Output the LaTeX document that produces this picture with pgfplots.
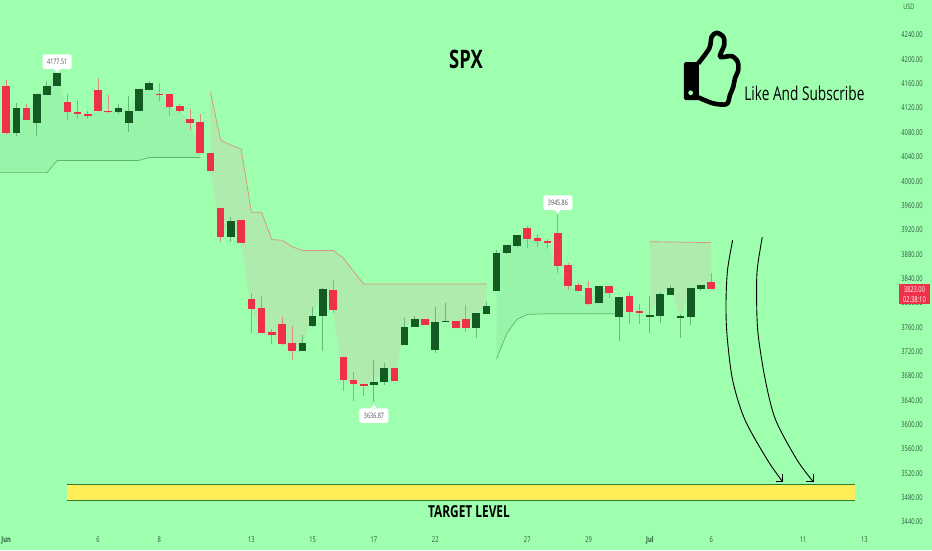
\documentclass[border=0pt]{standalone}
\usepackage{fontspec}
\usepackage{pgfplots}
\usepackage{pgfplotstable}
\pgfplotsset{compat=1.18}
\setmainfont{Open Sans}
\newfontfamily\cond[FakeStretch=0.72]{Open Sans}

\definecolor{bg}{HTML}{9EFFAF}
\definecolor{candlered}{HTML}{F03049}
\definecolor{candlegreen}{HTML}{135A23}
\definecolor{wickred}{HTML}{D98F80}
\definecolor{wickgreen}{HTML}{68B878}
\definecolor{areagreen}{HTML}{97F5A9}
\definecolor{areared}{HTML}{AEEBAC}
\definecolor{linegreen}{HTML}{5FB570}
\definecolor{linered}{HTML}{DB937F}
\definecolor{tickcol}{HTML}{2C5A3C}
\definecolor{band}{HTML}{FFEE58}
\definecolor{bandline}{HTML}{2E7D32}

% x = candle number, body from bot to top, wick from low to high
\pgfplotstableread{
x bot top low high
0 4078.5 4157 4076 4167
2 4100 4121 4100 4126
6 4113.5 4129.5 4100 4143
7 4111 4113.5 4102.5 4134
8 4107 4111 4101.5 4116
9 4115 4150 4115 4169
10 4113 4116 4112 4141
15 4142 4143 4131 4161
16 4122 4143 4107 4143
17 4115 4123 4112 4127
18 4096 4102 4084 4118
19 4047 4098 4047 4110
20 4017 4047 4017 4047
21 3909 3956 3900 3956
23 3899 3936 3899 3936
24 3790 3806 3751 3817
25 3750.5 3791 3750.5 3811
26 3747 3752 3733 3757
27 3733 3765 3730 3777
28 3721 3734 3706 3762.5
32 3788 3821 3784 3837.5
33 3673 3711 3655 3711
34 3666 3673 3638 3686
35 3664 3666 3647.5 3666
38 3672 3692.5 3672 3692.5
41 3763 3773.5 3763 3773.5
44 3758 3771 3758 3771
45 3759 3773.5 3752.6 3796
51 3905 3923 3891 3927
52 3902 3906 3891 3913
53 3899 3901 3891 3905
54 3860.5 3915 3848.5 3945.9
55 3828 3862 3821 3866
56 3820 3829 3820 3832
57 3797.6 3824 3796.5 3836
59 3817 3828 3808.5 3828
61 3785 3811 3765 3818
62 3783 3787 3766 3798
69 3823 3834 3823 3848.5
}\redcandles

\pgfplotstableread{
x bot top low high
1 4079 4121 4075 4129
3 4095 4143 4074 4143
4 4142 4156 4142 4164
5 4156 4177.5 4156 4177.5
11 4113 4121 4111 4126
12 4096 4116 4081 4140
13 4115 4151 4115 4151
14 4150 4161 4150 4164.5
22 3909 3935 3900 3941.5
29 3721 3734 3721 3748
30 3762 3779 3760 3794
31 3778 3822 3721 3824
36 3665.5 3670 3636.9 3706
37 3669.5 3692.5 3664.5 3702
39 3730 3760 3730 3775.6
40 3760 3773.5 3760 3778
42 3723 3769 3717 3793
43 3768.5 3771 3768.5 3800
46 3759 3783 3743 3783
47 3782 3795 3782 3802
48 3820 3882 3820 3887
49 3882 3894.5 3880 3894.5
50 3893 3911.5 3892 3911.5
58 3799 3828 3799 3828
60 3776 3810 3737 3810
63 3777 3779.5 3751 3811
64 3779 3814.5 3767 3818
65 3813 3824 3813 3829
66 3775 3778 3742 3781
67 3777 3824 3764 3824
68 3823 3830 3819 3830
}\greencandles

\begin{document}
\begin{tikzpicture}
\begin{axis}[
    scale only axis,
    width=932pt, height=550pt,
    xmin=-0.587, xmax=90.6,
    ymin=3394, ymax=4297.5,
    axis background/.style={fill=bg},
    axis line style={draw=none},
    major tick length=0pt,
    ytick={3440,3480,...,4240},
    yticklabel pos=right,
    y tick label style={
        font=\cond\fontsize{8}{9}\selectfont, text=tickcol, xshift=-34pt,
        /pgf/number format/fixed, /pgf/number format/fixed zerofill,
        /pgf/number format/precision=2, /pgf/number format/1000 sep={},
        /pgf/number format/assume math mode=true},
    xtick={0,9,15,24,30,36,42,51,57,63,69,78,84},
    xticklabels={\textbf{Jun},6,8,13,15,17,22,27,29,\textbf{Jul},6,11,13},
    x tick label style={font=\cond\fontsize{8}{9}\selectfont, text=tickcol, yshift=17pt, inner xsep=0pt},
]
% shaded regions between the close and the band line
\addplot[fill=areagreen, draw=none, forget plot] coordinates {
    (-0.587,4078) (0,4078.5) (1,4121) (2,4100) (3,4143) (4,4156) (5,4177) (6,4113.5) (7,4111)
    (8,4107) (9,4115) (10,4113) (11,4121) (12,4116) (13,4151) (14,4161) (15,4142) (16,4122)
    (17,4115) (18,4096) (19,4047) (19,4039) (14,4039) (13,4034) (5,4034) (4,4014) (-0.587,4014)} --cycle;
\addplot[fill=areared, draw=none, forget plot] coordinates {
    (20,4146) (21,4067.5) (22,4059) (23,4053) (23.5,4002) (24,3949) (25,3949) (26,3904) (27,3903)
    (28,3892) (29,3886) (32,3886) (33,3874) (34,3852) (35,3831) (47,3831)
    (47,3795) (46,3783) (45,3759) (44,3758) (43,3771) (42,3769) (41,3763) (40,3773.5) (39,3760)
    (38,3672) (37,3692.5) (36,3670) (35,3664) (34,3666) (33,3673) (32,3788) (31,3822) (30,3779)
    (29,3734) (28,3721) (27,3733) (26,3747) (25,3750.5) (24,3790) (23,3899) (22,3935) (21,3909) (20,4017)} --cycle;
\addplot[fill=areagreen, draw=none, forget plot] coordinates {
    (48,3882) (49,3894.5) (50,3911.5) (51,3905) (52,3902) (53,3899) (54,3860.5) (55,3828) (56,3820)
    (57,3797.6) (58,3828) (59,3817) (59.6,3800) (59.6,3782) (52.6,3782) (51,3781) (50,3773) (49,3750) (48,3708)} --cycle;
\addplot[fill=areared, draw=none, forget plot] coordinates {
    (63,3900.5) (65.3,3900) (69,3899) (69,3823) (68,3830) (67,3824) (66,3775) (65,3824) (64,3814.5) (63,3779.5)} --cycle;
% band lines
\addplot[linegreen, line width=0.7pt] coordinates {(-0.587,4014) (4,4014) (5,4034) (13,4034) (14,4039) (19,4039)};
\addplot[linered, line width=0.7pt] coordinates {
    (20,4146) (21,4067.5) (22,4059) (23,4053) (23.5,4002) (24,3949) (25,3949) (26,3904) (27,3903)
    (28,3892) (29,3886) (32,3886) (33,3874) (34,3852) (35,3831) (47,3831)};
\addplot[linegreen, line width=0.7pt] coordinates {(48,3708) (49,3750) (50,3773) (51,3781) (52.6,3782) (59.6,3782)};
\addplot[linered, line width=0.7pt] coordinates {(63,3900.5) (65.3,3900) (69,3899)};
% candles: wicks first, then bodies
\addplot[draw=none, mark=none, forget plot, error bars/.cd, y dir=both, y explicit, error mark=none,
    error bar style={draw=wickred, line width=1pt}]
    table[x=x, y=bot, y error plus expr=\thisrow{high}-\thisrow{bot}, y error minus expr=\thisrow{bot}-\thisrow{low}] {\redcandles};
\addplot[draw=none, mark=none, forget plot, error bars/.cd, y dir=both, y explicit, error mark=none,
    error bar style={draw=wickgreen, line width=1pt}]
    table[x=x, y=bot, y error plus expr=\thisrow{high}-\thisrow{bot}, y error minus expr=\thisrow{bot}-\thisrow{low}] {\greencandles};
\addplot[draw=none, mark=none, forget plot, error bars/.cd, y dir=plus, y explicit, error mark=none,
    error bar style={draw=candlered, line width=7.6pt}]
    table[x=x, y=bot, y error plus expr=\thisrow{top}-\thisrow{bot}] {\redcandles};
\addplot[draw=none, mark=none, forget plot, error bars/.cd, y dir=plus, y explicit, error mark=none,
    error bar style={draw=candlegreen, line width=7.6pt}]
    table[x=x, y=bot, y error plus expr=\thisrow{top}-\thisrow{bot}] {\greencandles};
% target band
\addplot[fill=band, draw=none, forget plot] coordinates {(6,3502.4) (83.07,3502.4) (83.07,3475.7) (6,3475.7)} --cycle;
\addplot[bandline, line width=0.9pt] coordinates {(6,3502.4) (83.07,3502.4)};
\addplot[bandline, line width=0.9pt] coordinates {(6,3475.7) (83.07,3475.7)};
% hand drawn arrows
\addplot[black, line width=0.9pt, smooth] coordinates {
    (71.1,3903) (70.6,3854) (70.45,3800) (70.55,3747) (71.1,3673) (72.3,3608) (74.5,3542) (76,3506)};
\addplot[black, line width=0.9pt] coordinates {(75.3,3506) (76,3506) (76,3519)};
\addplot[black, line width=0.9pt, smooth] coordinates {
    (74,3908) (73.5,3854) (73.45,3800) (73.6,3747) (74.3,3673) (75.3,3608) (77.4,3542) (79,3506)};
\addplot[black, line width=0.9pt] coordinates {(78.3,3506) (79,3506) (79,3519)};
% high and low callouts
\tikzset{callout/.style={fill=white, rounded corners=1.5pt, inner sep=0pt, minimum width=29pt,
    minimum height=14.5pt, text=black!70, font=\cond\fontsize{7.5}{9}\selectfont}}
\fill[white] (axis cs:5,4177.51) ++(-3pt,4pt) -- ++(6pt,0pt) -- ++(-3pt,-3.5pt) -- cycle;
\node[callout, anchor=south, yshift=4pt] at (axis cs:5,4177.51) {4177.51};
\fill[white] (axis cs:54,3945.86) ++(-3pt,4pt) -- ++(6pt,0pt) -- ++(-3pt,-3.5pt) -- cycle;
\node[callout, anchor=south, yshift=4pt] at (axis cs:54,3945.86) {3945.86};
\fill[white] (axis cs:36,3636.87) ++(-3pt,-6pt) -- ++(6pt,0pt) -- ++(-3pt,3.5pt) -- cycle;
\node[callout, anchor=north, yshift=-6pt] at (axis cs:36,3636.87) {3636.87};
\end{axis}
% picture furniture, in pixels from the top left corner
\begin{scope}[shift={(0,550pt)}, x=1pt, y=-1pt]
\node[font=\cond\fontsize{7.5}{9}\selectfont, text=tickcol] at (909,7) {USD};
\fill[candlered] (899,284.3) rectangle (930,304.3);
\node[font=\cond\fontsize{8}{9}\selectfont, text=white] at (914.5,289.5) {3823.00};
\node[font=\cond\fontsize{8}{9}\selectfont, text=white] at (914.5,299.5) {02:38:10};
\node[font=\cond\bfseries\fontsize{25.5}{30}\selectfont] at (466,59) {SPX};
\node[font=\cond\fontsize{19}{23}\selectfont] at (804.5,93) {Like And Subscribe};
\node[font=\cond\bfseries\fontsize{16.5}{20}\selectfont] at (469,512) {TARGET LEVEL};
% thumbs up
\fill[black, rounded corners=1.5pt] (684,62) rectangle (699,100);
\fill[bg] (690.7,92.7) circle (2.4);
\draw[black, line width=4.6pt, line join=round] plot[smooth] coordinates {
    (698.3,63.3) (709.3,48.3) (711.7,36.7) (716.7,32.7) (723.3,36.7) (724.3,45) (720,56.7)
    (731.7,56) (737.7,61.7) (738.3,70) (735,78.3) (733.3,86.7) (730,95) (726.7,104)
    (713.3,103.3) (698.3,97.3)};
\end{scope}
\end{tikzpicture}
\end{document}
